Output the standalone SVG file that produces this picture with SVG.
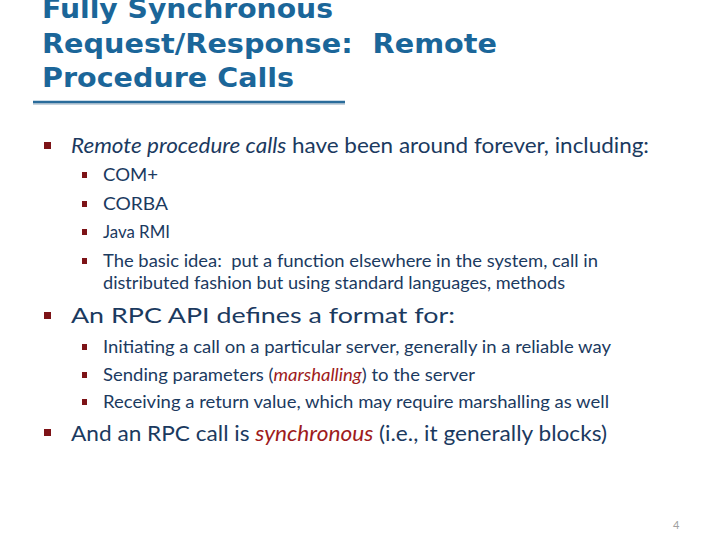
<svg xmlns="http://www.w3.org/2000/svg" width="728" height="546" viewBox="0 0 728 546">
<style>
.title{font-family:"DejaVu Sans",sans-serif;font-weight:bold;font-size:26px;fill:#1b6699;white-space:pre}
.l1{font-family:Lato,"Liberation Sans",sans-serif;font-size:22px;fill:#1b3a5f;white-space:pre}
.l2{font-family:Lato,"Liberation Sans",sans-serif;font-size:17.5px;fill:#1b3a5f;white-space:pre}
.it{font-style:italic}
.red{fill:#9e1b20;font-style:italic}
.b1{fill:#7d1317}
.b2{fill:#7d1317}
.pg{font-family:Lato,"Liberation Sans",sans-serif;font-size:11px;fill:#a0a0a0}
</style>
<rect width="728" height="546" fill="#ffffff"/>
<g id="title">
<text class="title" x="42" y="18" textLength="291" lengthAdjust="spacingAndGlyphs">Fully Synchronous</text>
<text class="title" x="42" y="53" textLength="455" lengthAdjust="spacingAndGlyphs">Request/Response:  Remote</text>
<text class="title" x="42" y="87" textLength="252" lengthAdjust="spacingAndGlyphs">Procedure Calls</text>
<line x1="33" y1="104" x2="345" y2="104" stroke="#c8d3dc" stroke-width="2"/>
<line x1="33" y1="102" x2="345" y2="102" stroke="#2a6c9b" stroke-width="2.5"/>
</g>
<g id="bullets">
<rect class="b1" x="44" y="142" width="7" height="7"/>
<text class="l1" x="71" y="153" textLength="578" lengthAdjust="spacingAndGlyphs"><tspan class="it">Remote procedure calls</tspan> have been around forever, including:</text>
<rect class="b2" x="82" y="172" width="5" height="6"/>
<text class="l2" x="103" y="181" textLength="55" lengthAdjust="spacingAndGlyphs">COM+</text>
<rect class="b2" x="82" y="201" width="5" height="6"/>
<text class="l2" x="103" y="210" textLength="65" lengthAdjust="spacingAndGlyphs">CORBA</text>
<rect class="b2" x="82" y="229" width="5" height="6"/>
<text class="l2" x="103" y="238" textLength="67" lengthAdjust="spacingAndGlyphs">Java RMI</text>
<rect class="b2" x="82" y="258" width="5" height="6"/>
<text class="l2" x="103" y="267" textLength="495" lengthAdjust="spacingAndGlyphs">The basic idea:  put a function elsewhere in the system, call in</text>
<text class="l2" x="103" y="289" textLength="462" lengthAdjust="spacingAndGlyphs">distributed fashion but using standard languages, methods</text>
<rect class="b1" x="44" y="312" width="7" height="7"/>
<text class="l1" x="71" y="323" textLength="384" lengthAdjust="spacingAndGlyphs">An RPC API defines a format for:</text>
<rect class="b2" x="82" y="344" width="5" height="6"/>
<text class="l2" x="103" y="353" textLength="508" lengthAdjust="spacingAndGlyphs">Initiating a call on a particular server, generally in a reliable way</text>
<rect class="b2" x="82" y="372" width="5" height="6"/>
<text class="l2" x="103" y="381" textLength="372" lengthAdjust="spacingAndGlyphs">Sending parameters (<tspan class="red">marshalling</tspan>) to the server</text>
<rect class="b2" x="82" y="399" width="5" height="6"/>
<text class="l2" x="103" y="408" textLength="506" lengthAdjust="spacingAndGlyphs">Receiving a return value, which may require marshalling as well</text>
<rect class="b1" x="44" y="429" width="7" height="7"/>
<text class="l1" x="71" y="441" textLength="536" lengthAdjust="spacingAndGlyphs">And an RPC call is <tspan class="red">synchronous</tspan> (i.e., it generally blocks)</text>
</g>
<text class="pg" x="673" y="529">4</text>
</svg>
